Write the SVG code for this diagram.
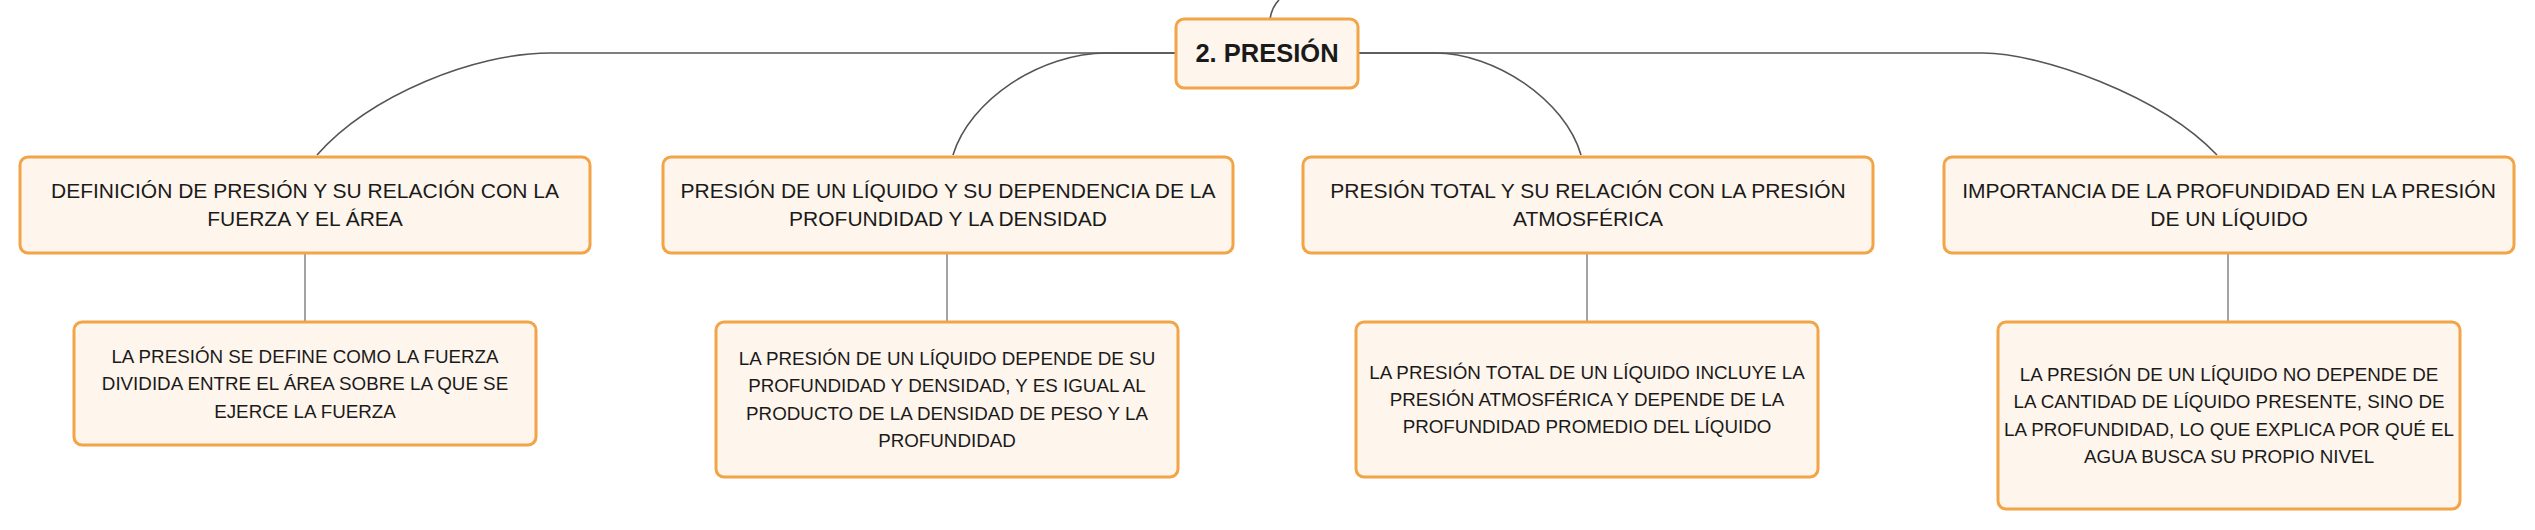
<svg xmlns="http://www.w3.org/2000/svg" width="2535" height="530" viewBox="0 0 2535 530">
<style>
.box{fill:#FEF5EC;stroke:#F2A446;stroke-width:3}
.t{font-family:"Liberation Sans",Arial,sans-serif;fill:#1a1a1a;text-anchor:middle}
.h{font-size:21px}
.c{font-size:18.8px}
.r{font-size:25.5px;font-weight:bold}
.ln{fill:none;stroke:#555;stroke-width:1.6}
.vl{fill:none;stroke:#666;stroke-width:1.2}
</style>
<rect width="2535" height="530" fill="#ffffff"/>
<g id="connectors">
<path class="ln" d="M1270,19 Q1272,7 1279,0"/>
<path class="ln" d="M1176,53 H550 C475,53 370,95 317,155"/>
<path class="ln" d="M1176,53 H1107 C1040,53 970,100 953,155"/>
<path class="ln" d="M1358,53 H1435 C1495,53 1565,100 1581,155"/>
<path class="ln" d="M1358,53 H1983 C2040,53 2160,95 2217,155"/>
<path class="vl" d="M305,254 V322"/>
<path class="vl" d="M947,254 V322"/>
<path class="vl" d="M1587,254 V322"/>
<path class="vl" d="M2228,254 V322"/>
</g>
<g id="root">
<rect class="box" x="1176" y="19" width="182" height="69" rx="8"/>
<text class="t r" x="1267" y="62">2. PRESIÓN</text>
</g>
<g id="n1">
<rect class="box" x="20" y="157" width="570" height="96" rx="8"/>
<text class="t h" x="305" y="198">DEFINICIÓN DE PRESIÓN Y SU RELACIÓN CON LA</text>
<text class="t h" x="305" y="226">FUERZA Y EL ÁREA</text>
</g>
<g id="n2">
<rect class="box" x="663" y="157" width="570" height="96" rx="8"/>
<text class="t h" x="948" y="198">PRESIÓN DE UN LÍQUIDO Y SU DEPENDENCIA DE LA</text>
<text class="t h" x="948" y="226">PROFUNDIDAD Y LA DENSIDAD</text>
</g>
<g id="n3">
<rect class="box" x="1303" y="157" width="570" height="96" rx="8"/>
<text class="t h" x="1588" y="198">PRESIÓN TOTAL Y SU RELACIÓN CON LA PRESIÓN</text>
<text class="t h" x="1588" y="226">ATMOSFÉRICA</text>
</g>
<g id="n4">
<rect class="box" x="1944" y="157" width="570" height="96" rx="8"/>
<text class="t h" x="2229" y="198">IMPORTANCIA DE LA PROFUNDIDAD EN LA PRESIÓN</text>
<text class="t h" x="2229" y="226">DE UN LÍQUIDO</text>
</g>
<g id="c1">
<rect class="box" x="74" y="322" width="462" height="123" rx="8"/>
<text class="t c" x="305" y="362.5">LA PRESIÓN SE DEFINE COMO LA FUERZA</text>
<text class="t c" x="305" y="390">DIVIDIDA ENTRE EL ÁREA SOBRE LA QUE SE</text>
<text class="t c" x="305" y="417.5">EJERCE LA FUERZA</text>
</g>
<g id="c2">
<rect class="box" x="716" y="322" width="462" height="155" rx="8"/>
<text class="t c" x="947" y="364.75">LA PRESIÓN DE UN LÍQUIDO DEPENDE DE SU</text>
<text class="t c" x="947" y="392.25">PROFUNDIDAD Y DENSIDAD, Y ES IGUAL AL</text>
<text class="t c" x="947" y="419.75">PRODUCTO DE LA DENSIDAD DE PESO Y LA</text>
<text class="t c" x="947" y="447.25">PROFUNDIDAD</text>
</g>
<g id="c3">
<rect class="box" x="1356" y="322" width="462" height="155" rx="8"/>
<text class="t c" x="1587" y="379">LA PRESIÓN TOTAL DE UN LÍQUIDO INCLUYE LA</text>
<text class="t c" x="1587" y="406">PRESIÓN ATMOSFÉRICA Y DEPENDE DE LA</text>
<text class="t c" x="1587" y="433">PROFUNDIDAD PROMEDIO DEL LÍQUIDO</text>
</g>
<g id="c4">
<rect class="box" x="1998" y="322" width="462" height="187" rx="8"/>
<text class="t c" x="2229" y="380.75">LA PRESIÓN DE UN LÍQUIDO NO DEPENDE DE</text>
<text class="t c" x="2229" y="408.25">LA CANTIDAD DE LÍQUIDO PRESENTE, SINO DE</text>
<text class="t c" x="2229" y="435.75">LA PROFUNDIDAD, LO QUE EXPLICA POR QUÉ EL</text>
<text class="t c" x="2229" y="463.25">AGUA BUSCA SU PROPIO NIVEL</text>
</g>
</svg>
